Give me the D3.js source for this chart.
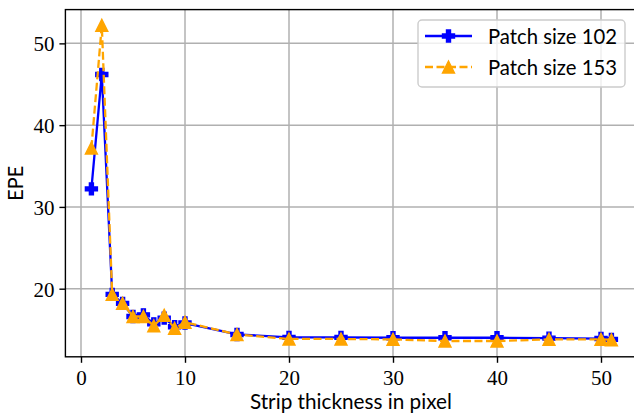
<!DOCTYPE html>
<html><head><meta charset="utf-8">
<script src="https://cdn.jsdelivr.net/npm/d3@7"></script>
<style>body{margin:0;background:#fff}svg{display:block}</style>
</head><body>
<script>
const xs = [1,2,3,4,5,6,7,8,9,10,15,20,25,30,35,40,45,50,51];
const patch102 = [32.2,46.2,19.3,18.2,16.6,16.8,15.7,16.4,15.35,15.8,14.4,14.05,14.05,14.0,14.0,14.0,13.95,13.9,13.8];
const patch153 = [37.2,52.2,19.3,18.2,16.6,16.6,15.45,16.75,15.15,15.9,14.4,13.85,13.85,13.8,13.6,13.6,13.8,13.8,13.75];
const xTicks = [0,10,20,30,40,50];
const yTicks = [20,30,40,50];
const seriesNames = ["Patch size 102","Patch size 153"];

const W=634,H=413;
const L=65.4,R=637.4,T=9.6,B=356.8;
const svg=d3.select("body").append("svg").attr("width",W).attr("height",H);

const xExt=d3.extent(xs), xm=(xExt[1]-xExt[0])*0.05;
const allY=patch102.concat(patch153), yExt=d3.extent(allY), ym=(yExt[1]-yExt[0])*0.05;
const x=d3.scaleLinear().domain([xExt[0]-xm,xExt[1]+xm]).range([L,R]);
const y=d3.scaleLinear().domain([yExt[0]-ym,yExt[1]+ym]).range([B,T]);

// grid
const g=svg.append("g");
g.selectAll(".gx").data(xTicks).enter().append("line")
 .attr("x1",d=>x(d)).attr("x2",d=>x(d)).attr("y1",T).attr("y2",B)
 .attr("stroke","#b0b0b0").attr("stroke-width",1.5);
g.selectAll(".gy").data(yTicks).enter().append("line")
 .attr("y1",d=>y(d)).attr("y2",d=>y(d)).attr("x1",L).attr("x2",R)
 .attr("stroke","#b0b0b0").attr("stroke-width",1.5);

const blue="#0000ff", orange="#ffa500";
const line=d3.line().x((d,i)=>x(xs[i])).y(d=>y(d));
const ms=12;
const plusPath=(s)=>{const a=s/6,b=s/2;return `M${-a},${-b}H${a}V${-a}H${b}V${a}H${a}V${b}H${-a}V${a}H${-b}V${-a}H${-a}Z`;};
const triPath=(s)=>{const b=s/2;return `M0,${-b}L${b},${b}L${-b},${b}Z`;};

const plot=svg.append("g");
plot.append("path").datum(patch102).attr("d",line).attr("fill","none").attr("stroke",blue).attr("stroke-width",2.3).attr("stroke-linejoin","round");
plot.selectAll(".pm").data(patch102).enter().append("path")
 .attr("transform",(d,i)=>`translate(${x(xs[i])},${y(d)})`).attr("d",plusPath(ms))
 .attr("fill",blue).attr("stroke",blue).attr("stroke-width",1.4).attr("stroke-linejoin","miter");
plot.append("path").datum(patch153).attr("d",line).attr("fill","none").attr("stroke",orange).attr("stroke-width",2.3).attr("stroke-dasharray","8,3.5");
plot.selectAll(".tm").data(patch153).enter().append("path")
 .attr("transform",(d,i)=>`translate(${x(xs[i])},${y(d)})`).attr("d",triPath(ms))
 .attr("fill",orange).attr("stroke",orange).attr("stroke-width",1.4).attr("stroke-linejoin","miter");

// spines
svg.append("rect").attr("x",L).attr("y",T).attr("width",R-L).attr("height",B-T)
 .attr("fill","none").attr("stroke","#000").attr("stroke-width",1.4);

// axes
const xAxis=d3.axisBottom(x).tickValues(xTicks).tickSize(6).tickPadding(6).tickFormat(d3.format("d"));
const ax=svg.append("g").attr("transform",`translate(0,${B})`).call(xAxis);
ax.select(".domain").remove();
ax.selectAll("line").attr("stroke","#000").attr("stroke-width",1.4);
ax.selectAll("text").attr("font-family","'Liberation Serif',serif").attr("font-size",21).attr("fill","#000").attr("dy","0.75em");

const yAxis=d3.axisLeft(y).tickValues(yTicks).tickSize(6).tickPadding(5).tickFormat(d3.format("d"));
const ay=svg.append("g").attr("transform",`translate(${L},0)`).call(yAxis);
ay.select(".domain").remove();
ay.selectAll("line").attr("stroke","#000").attr("stroke-width",1.4);
ay.selectAll("text").attr("font-family","'Liberation Serif',serif").attr("font-size",21).attr("fill","#000").attr("dy","0.36em");

const sans="Lato, 'Liberation Sans', sans-serif";
svg.append("text").attr("x",(L+R)/2-0.5).attr("y",409).attr("text-anchor","middle")
 .attr("font-family",sans).attr("font-size",21).attr("textLength",202).attr("lengthAdjust","spacingAndGlyphs")
 .text("Strip thickness in pixel");
svg.append("text").attr("transform",`translate(22.5,${(T+B)/2}) rotate(-90)`).attr("text-anchor","middle")
 .attr("font-family",sans).attr("font-size",21).attr("textLength",35).attr("lengthAdjust","spacingAndGlyphs")
 .text("EPE");

// legend
const lg=svg.append("g");
lg.append("rect").attr("x",418).attr("y",20).attr("width",207).attr("height",67).attr("rx",4)
 .attr("fill","#fff").attr("fill-opacity",0.8).attr("stroke","#cccccc").attr("stroke-width",1.4);
const rows=[{name:seriesNames[0],c:blue,dash:null,m:plusPath(ms)},{name:seriesNames[1],c:orange,dash:"8,3.5",m:triPath(ms)}];
rows.forEach((r,i)=>{
  const cy=36+i*31;
  lg.append("line").attr("x1",425).attr("x2",472).attr("y1",cy).attr("y2",cy)
   .attr("stroke",r.c).attr("stroke-width",2.3).attr("stroke-dasharray",r.dash);
  lg.append("path").attr("transform",`translate(448.5,${cy})`).attr("d",r.m).attr("fill",r.c).attr("stroke",r.c).attr("stroke-width",1.4);
  lg.append("text").attr("x",488).attr("y",cy+7.5).attr("font-family",sans).attr("font-size",21)
   .attr("textLength",129).attr("lengthAdjust","spacingAndGlyphs").text(r.name);
});
</script>
</body></html>
